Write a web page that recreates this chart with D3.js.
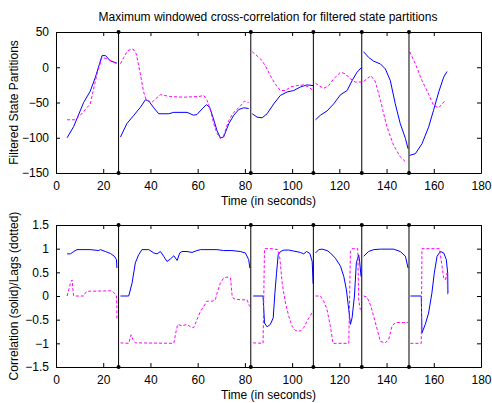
<!DOCTYPE html>
<html><head><meta charset="utf-8">
<script src="https://cdn.jsdelivr.net/npm/d3@7"></script>
<style>body{margin:0;background:#fff}svg{display:block}text{font-family:"Liberation Sans",Arial,sans-serif;font-size:12px;fill:#000}</style>
</head><body><svg id="c" width="492" height="403"></svg>
<script>
const title = "Maximum windowed cross-correlation for filtered state partitions";
const xLabel = "Time (in seconds)";
const yLabelTop = "Filtered State Partitions";
const yLabelBot = "Correlation (solid)/Lags (dotted)";
const xTicks = [0,20,40,60,80,100,120,140,160,180];
const yTicksTop = [50,0,-50,-100,-150];
const yTicksBot = [1.5,1,0.5,0,-0.5,-1,-1.5];
const dividers = [26.5, 82.5, 109, 129.5, 149.5];

const topSolid = [
 [[4.7,-100],[7.5,-84],[11.7,-50],[14.5,-34],[16.7,-14],[19.5,16.5],[21,16.5],[23,9],[25.8,5.7]],
 [[27.3,-99],[30,-80],[33,-68],[35.7,-57],[37.9,-46],[39.3,-48],[41.4,-57.5],[43.5,-66],[47.7,-66],[49.9,-64],[55.5,-64],[58.3,-68],[59.7,-67],[61.9,-59],[63.7,-53],[65.1,-57],[66.5,-71],[68.2,-90],[69.6,-100],[71,-99],[73.2,-80],[75.3,-68],[77.4,-60],[79.5,-57.5],[81.6,-58.5]],
 [[83.1,-66],[85.2,-70.8],[87.3,-71.7],[89.4,-66],[92.2,-52],[95,-40],[97.9,-35],[100.7,-33],[103.5,-28],[106.3,-25],[108.9,-26]],
 [[109.9,-74.5],[112,-68],[114.8,-62],[117.6,-52],[120.5,-39],[123.3,-33],[125.4,-19],[127.5,-7],[129.2,-1]],
 [[130.3,22],[132.4,14],[134.6,8.5],[137.4,4.7],[139.5,-2.4],[141.6,-19],[143.7,-52],[145.8,-80],[148,-101],[149.1,-115.6]],
 [[149.8,-125],[152.2,-122.6],[155,-108.5],[157.8,-85],[159.9,-61],[162.1,-35],[164.2,-14],[165.6,-6]]
];
const topDashed = [
 [[4.7,-74.5],[8.2,-74.5],[10.3,-68],[14.5,-52],[17.4,-9],[19.5,14],[21.6,12],[25.8,5]],
 [[27.3,5],[28.7,14],[30.4,23.6],[32.6,26],[34,19],[35.7,-9],[37.1,-35],[38.3,-47],[40.7,-49.5],[42.1,-45],[44.2,-39],[48.4,-41.5],[54.1,-42.5],[60.5,-41.5],[62.6,-40],[64,-47],[65.4,-61],[66.8,-80],[68.2,-94],[69.6,-101],[71,-97],[73.2,-75],[75.3,-64],[78.1,-55],[79.8,-48],[81.6,-50]],
 [[83.1,22],[86.6,12],[88.7,2],[90.8,-12],[92.9,-24],[95,-33],[97.2,-33],[99.3,-28],[102.1,-26],[104.9,-25],[107,-28],[108.9,-33]],
 [[109.9,-22.6],[111.3,-26],[113.4,-30],[115.5,-26],[117.6,-16.5],[120.5,-7],[122.6,-9.4],[124.7,-16.5],[126.8,-21],[129.2,-21]],
 [[130.3,-20],[131.7,-16.5],[133.4,-12],[135.3,-21],[137.4,-47],[140.2,-85],[143,-111],[145.8,-127],[148,-134]],
 [[149.8,22],[152.2,5],[155,-19],[157.8,-38],[159.9,-54],[162.1,-57.5],[163.5,-52],[164.9,-47]]
];
const botSolid = [
 [[4.7,0.89],[6.1,0.89],[7.5,0.94],[8.9,0.98],[14.5,0.98],[18.1,0.96],[18.8,0.98],[20.9,0.94],[23,0.9],[24.7,0.84],[25.6,0.77],[25.8,0.59]],
 [[27.3,0],[30.8,0],[32.2,0.27],[33.6,0.7],[35,0.87],[36.4,0.98],[39.3,0.98],[41.4,0.91],[42.8,0.89],[44.2,0.94],[45.6,0.84],[47,0.73],[48.4,0.78],[49.9,0.85],[51.3,0.75],[52.4,0.91],[53.4,0.94],[55.5,0.94],[57.6,0.92],[59.7,0.96],[61.2,0.98],[68.2,0.98],[71,0.96],[74.5,0.96],[78,0.94],[80.2,0.91],[81.6,0.77],[82.1,0.59]],
 [[83.5,0],[87.7,0],[88.3,-0.57],[89.4,-0.65],[90.8,-0.6],[92,-0.46],[92.7,0.06],[93.4,0.48],[94.1,0.87],[95.1,0.94],[96.5,0.97],[98.6,0.97],[100.7,0.95],[103.5,0.92],[104.9,0.89],[106.1,0.94],[107.5,0.9],[108.5,0.73],[108.9,0.26]],
 [[109.9,0.91],[111.3,0.98],[112.7,0.99],[114.8,0.96],[116.2,0.91],[118.3,0.8],[120.5,0.63],[121.9,0.41],[123,0.13],[124,-0.29],[124.7,-0.6],[125.4,-0.46],[126.4,0],[127.2,0.7],[128.2,0.87],[128.6,0.73],[129.2,0.41]],
 [[130.3,0.84],[132.4,0.94],[134.6,0.98],[137.4,0.99],[143,0.99],[145.8,0.94],[148,0.84],[149.1,0.59]],
 [[150.1,0],[154.7,0],[155,-0.78],[156.4,-0.6],[157.8,-0.36],[159.2,0.06],[160.2,0.48],[161.4,0.84],[162.8,0.94],[164.2,0.91],[165.3,0.77],[165.9,0.48],[166,0.06]]
];
const botDashed = [
 [[4.7,0],[5.4,0.13],[6.1,0.27],[6.8,0.34],[7.4,0.02],[7.6,0],[11.7,0],[12.4,0.06],[13,0.1],[23.7,0.11],[24.7,0.06],[25.6,0],[25.8,-0.2],[25.8,-0.5]],
 [[27.3,-0.99],[30.8,-1],[31.8,-0.82],[32.6,-0.92],[33.6,-0.99],[49.9,-1],[51,-0.71],[51.6,-0.6],[53.4,-0.63],[55.5,-0.6],[56.9,-0.65],[58.3,-0.67],[59.7,-0.5],[61.2,-0.32],[62.6,-0.22],[63.9,-0.11],[66.1,-0.11],[67.5,-0.08],[68.2,0.06],[69.6,0.27],[71,0.38],[72.4,0.4],[73.9,0.38],[74.6,0],[75.3,-0.06],[78.1,-0.08],[80.9,-0.08],[82,-0.22]],
 [[83.5,-0.99],[87.7,-1],[88.3,1],[91.5,1],[93.9,0.98],[94.8,0.8],[95.8,0.27],[97.2,-0.15],[98.6,-0.43],[100,-0.64],[101.4,-0.73],[103.5,-0.74],[104.9,-0.67],[106.3,-0.53],[107.8,-0.41],[108.9,-0.32]],
 [[109.9,0],[112,0],[113.4,-0.11],[114.8,-0.29],[116.2,-0.64],[117.3,-1],[124,-1],[124.7,0.94],[125.4,1],[127.8,1],[128.2,-0.08],[128.9,-0.29]],
 [[130.3,0],[131.7,-0.02],[133.4,-0.22],[135.3,-0.57],[137.4,-0.96],[139.5,-0.99],[140.9,-0.92],[142.3,-0.64],[143.7,-0.56],[147.2,-0.56],[149.1,-0.56]],
 [[150.1,-1],[154.7,-1],[155,1],[162.4,1],[163.5,0.63],[164.2,0.38],[164.9,0.34],[165.6,0.48],[165.9,0.03]]
];

const svg = d3.select("#c");
const L = 56, R = 481;
const x = d3.scaleLinear().domain([0,180]).range([L,R]);

svg.append("text").attr("x",268).attr("y",21).attr("text-anchor","middle").text(title);

function panel(top, bottom, yDomain, yTicks, yLab, solid, dashed){
  const y = d3.scaleLinear().domain(yDomain).range([bottom, top]);
  const g = svg.append("g");
  const line = d3.line().x(d=>x(d[0])).y(d=>y(d[1]));
  solid.forEach(s=>g.append("path").attr("d",line(s)).attr("fill","none").attr("stroke","#0000ff").attr("stroke-width",1));
  dashed.forEach(s=>g.append("path").attr("d",line(s)).attr("fill","none").attr("stroke","#ff00ff").attr("stroke-width",1).attr("stroke-dasharray","3,2"));
  // axes
  const ax = (gen, tr) => g.append("g").attr("transform",tr).call(gen).call(a=>{a.select(".domain").attr("stroke","#000");a.selectAll("line").attr("stroke","#000");a.selectAll("text").attr("fill","#000").style("font-size","12px").style("font-family",'"Liberation Sans",Arial,sans-serif');});
  ax(d3.axisBottom(x).tickValues(xTicks).tickSizeInner(-4).tickSizeOuter(0).tickPadding(8), `translate(0,${bottom})`);
  ax(d3.axisTop(x).tickValues(xTicks).tickSizeInner(-4).tickSizeOuter(0).tickFormat(""), `translate(0,${top})`);
  ax(d3.axisLeft(y).tickValues(yTicks).tickSizeInner(-4).tickSizeOuter(0).tickPadding(7).tickFormat(d3.format("")), `translate(${L},0)`);
  ax(d3.axisRight(y).tickValues(yTicks).tickSizeInner(-4).tickSizeOuter(0).tickFormat(""), `translate(${R},0)`);
  dividers.forEach(d=>{
    g.append("line").attr("x1",x(d)).attr("x2",x(d)).attr("y1",top).attr("y2",bottom).attr("stroke","#000");
    [top,bottom].forEach(yy=>g.append("circle").attr("cx",x(d)).attr("cy",yy).attr("r",2).attr("fill","#000"));
  });
  svg.append("text").attr("x",x(90)).attr("y",bottom+32).attr("text-anchor","middle").text(xLabel);
  svg.append("text").attr("transform",`translate(18,${(top+bottom)/2}) rotate(-90)`).attr("text-anchor","middle").text(yLab);
}
panel(32, 173, [-150,50], yTicksTop, yLabelTop, topSolid, topDashed);
panel(225, 367, [-1.5,1.5], yTicksBot, yLabelBot, botSolid, botDashed);
</script></body></html>
